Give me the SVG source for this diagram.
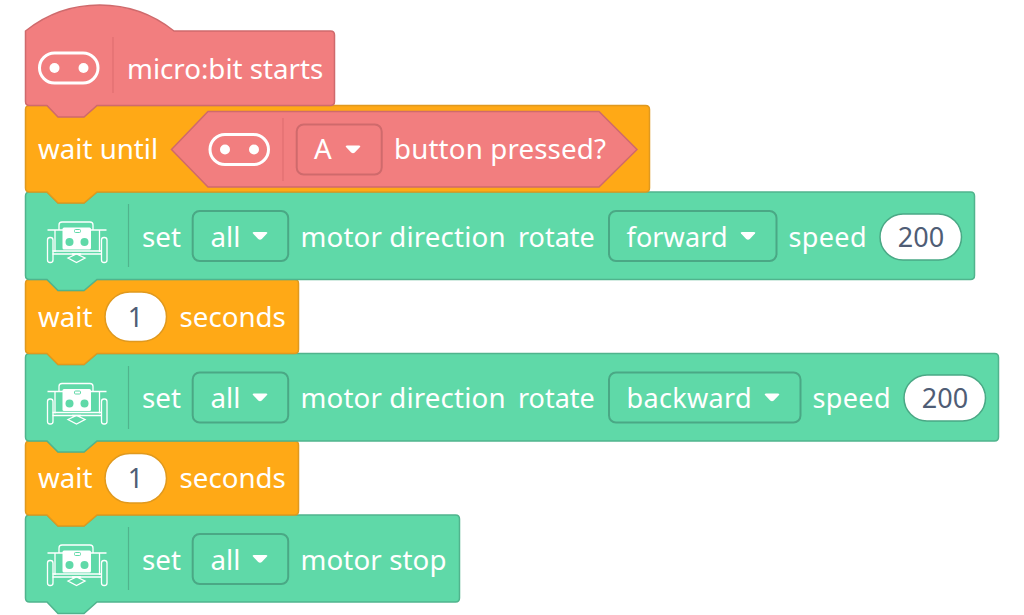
<svg xmlns="http://www.w3.org/2000/svg" width="1024" height="615" viewBox="0 0 1024 615">
<style>
text{font-family:"Noto Sans","Open Sans","Liberation Sans",sans-serif;font-size:27.7px;fill:#fff}
text.v{fill:#4f5d75;text-anchor:middle;font-size:27px}
text.n{font-size:27px}
.pink{fill:#f27e7f;stroke:#cf6a6c;stroke-width:1.5}
.orange{fill:#ffa916;stroke:#e0991e;stroke-width:1.5}
.green{fill:#5fd9a8;stroke:#50b48d;stroke-width:1.5}
.dd-g{fill:#5fd9a8;stroke:#4aa885;stroke-width:2}
.dd-p{fill:#f27e7f;stroke:#cf6a6c;stroke-width:2}
.val{fill:#fff;stroke:#4aa885;stroke-width:1.5}
.val-o{fill:#fff;stroke:#e0991e;stroke-width:1.5}
.div-g{stroke:#50b48d;stroke-width:1.2;fill:none}
.div-p{stroke:#e06f71;stroke-width:1.2;fill:none}
.ic{fill:none;stroke:#fff;stroke-width:1.3}
</style>
<defs>
<g id="mb"><rect x="1.5" y="1.5" width="58.5" height="30" rx="15" fill="none" stroke="#fff" stroke-width="3"/><circle cx="16.5" cy="16.5" r="5" fill="#fff"/><circle cx="45.5" cy="16.5" r="5" fill="#fff"/></g>
<path id="tri" d="M-6 -4H6Q8 -4 7 -2.500L1.800 3Q0 4.500 -1.800 3L-7 -2.500Q-8 -4 -6 -4Z" fill="#fff"/>
<g id="robot">
<path class="ic" d="M59 230V225Q59 222 62 222H90Q93 222 93 225V230"/>
<path class="ic" d="M47.500 230H106.500M55 230V252M99.500 230V252M52.500 251H101.500M52.500 254H101.500"/>
<rect x="62.500" y="227.500" width="28.500" height="22" rx="1.500" fill="#fff"/>
<rect x="74.500" y="229.500" width="6" height="3" rx="1" fill="none" stroke="#5fd9a8" stroke-width="1"/>
<circle cx="69.500" cy="242" r="4" fill="#5fd9a8"/><circle cx="84.500" cy="242" r="4" fill="#5fd9a8"/>
<rect class="ic" x="47.500" y="237.500" width="5.500" height="25" rx="2.500"/>
<rect class="ic" x="101.500" y="237.500" width="5.500" height="25" rx="2.500"/>
<path class="ic" d="M68 258L76.500 254L85 258L76.500 262.500Z M72 254H81"/>
</g>
</defs>
<g id="connectors"></g>
<g id="block-stop">
<path class="green" d="M25.500 519Q25.500 515 29.500 515H47L58 526H84L97 515H455.500Q459.500 515 459.500 519V598Q459.500 602 455.500 602H97L84 613.500H58L47 602H29.500Q25.500 602 25.500 598Z"/>
<path class="div-g" d="M128.500 527V590"/><use href="#robot" y="323"/>
<text x="142" y="570">set</text>
<rect class="dd-g" x="192.700" y="534" width="95.500" height="50" rx="7"/><text x="210.500" y="570">all</text><use href="#tri" x="260" y="559"/>
<text x="300.500" y="570" textLength="146">motor stop</text>
</g>
<g id="block-wait2">
<path class="orange" d="M25.500 445Q25.500 441 29.500 441H47L58 452H84L97 441H294.500Q298.500 441 298.500 445V511Q298.500 515 294.500 515H97L84 526H58L47 515H29.500Q25.500 515 25.500 511Z"/>
<text x="38" y="488">wait</text><rect class="val-o" x="105" y="453.500" width="61.500" height="49.500" rx="24.700"/><text class="v" x="135.500" y="488">1</text><text x="179.500" y="488">seconds</text>
</g>
<g id="block-motor-backward">
<path class="green" d="M25.500 357.500Q25.500 353.500 29.500 353.500H47L58 364.500H84L97 353.500H994.500Q998.500 353.500 998.500 357.500V437Q998.500 441 994.500 441H97L84 452H58L47 441H29.500Q25.500 441 25.500 437Z"/>
<path class="div-g" d="M128.500 366V429"/><use href="#robot" y="161.500"/>
<text x="142" y="408">set</text>
<rect class="dd-g" x="192.700" y="372.500" width="95.500" height="50" rx="7"/><text x="210.500" y="408">all</text><use href="#tri" x="260" y="397.500"/>
<text x="300.500" y="408" textLength="205">motor direction</text><text x="518" y="408" class="n">rotate</text>
<rect class="dd-g" x="609" y="372.500" width="191.500" height="50" rx="7"/><text x="626.500" y="408" class="n" textLength="125">backward</text><use href="#tri" x="772" y="397.500"/>
<text x="812.500" y="408" class="n" textLength="78">speed</text><rect class="val" x="904" y="375" width="81.500" height="46" rx="23"/><text class="v" x="945" y="408">200</text>
</g>
<g id="block-wait1">
<path class="orange" d="M25.500 283.500Q25.500 279.500 29.500 279.500H47L58 290.500H84L97 279.500H294.500Q298.500 279.500 298.500 283.500V349.500Q298.500 353.500 294.500 353.500H97L84 364.500H58L47 353.500H29.500Q25.500 353.500 25.500 349.500Z"/>
<text x="38" y="327">wait</text><rect class="val-o" x="105" y="292" width="61.500" height="49.500" rx="24.700"/><text class="v" x="135.500" y="327">1</text><text x="179.500" y="327">seconds</text>
</g>
<g id="block-motor-forward">
<path class="green" d="M25.500 196Q25.500 192 29.500 192H47L58 203H84L97 192H970.500Q974.500 192 974.500 196V275.500Q974.500 279.500 970.500 279.500H97L84 290.500H58L47 279.500H29.500Q25.500 279.500 25.500 275.500Z"/>
<path class="div-g" d="M128.500 204V267"/><use href="#robot"/>
<text x="142" y="247">set</text>
<rect class="dd-g" x="192.700" y="211" width="95.500" height="50" rx="7"/><text x="210.500" y="247">all</text><use href="#tri" x="260" y="236"/>
<text x="300.500" y="247" textLength="205">motor direction</text><text x="518" y="247" class="n">rotate</text>
<rect class="dd-g" x="609" y="211" width="167.500" height="50" rx="7"/><text x="626.500" y="247" class="n" textLength="101">forward</text><use href="#tri" x="748" y="236"/>
<text x="788.500" y="247" class="n" textLength="78">speed</text><rect class="val" x="880" y="214" width="81.500" height="46" rx="23"/><text class="v" x="921" y="247">200</text>
</g>
<g id="block-wait-until">
<path class="orange" d="M25.500 109.500Q25.500 105.500 29.500 105.500H47L58 116.500H84L97 105.500H645.500Q649.500 105.500 649.500 109.500V188Q649.500 192 645.500 192H97L84 203H58L47 192H29.500Q25.500 192 25.500 188Z"/>
<text x="38" y="159">wait until</text>
<g id="cond-button">
<path class="pink" d="M171.500 149.500L208 111.500H599L637 149.500L599 187H208Z"/>
<path class="div-p" d="M283 118V181"/><use href="#mb" x="208.500" y="133"/>
<rect class="dd-p" x="296.700" y="124.500" width="85" height="50" rx="7"/><text x="314" y="159">A</text><use href="#tri" x="353" y="149.500"/>
<text x="394" y="159" textLength="212">button pressed?</text>
</g>
</g>
<g id="block-start">
<path class="pink" d="M25.500 31A119 119 0 0 1 174 31H330.500Q334.500 31 334.500 35V101.500Q334.500 105.500 330.500 105.500H97L84 117H58L47 105.500H29.500Q25.500 105.500 25.500 101.500Z"/>
<path class="div-p" d="M113 37V93"/><use href="#mb" x="38" y="51.500"/>
<text x="127" y="79">micro:bit starts</text>
</g>
</svg>
